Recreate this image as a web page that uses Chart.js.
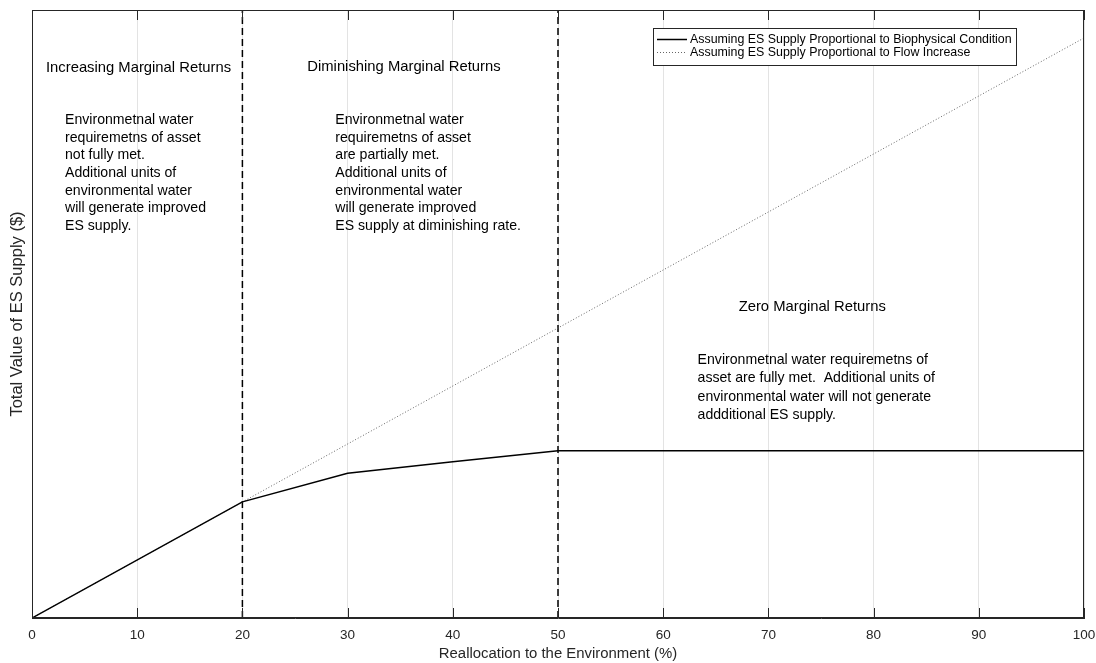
<!DOCTYPE html>
<html>
<head>
<meta charset="utf-8">
<script src="https://cdn.jsdelivr.net/npm/chart.js@4/dist/chart.umd.min.js"></script>
<style>
  body { margin: 0; background: #fff; }
  #wrap { width: 1096px; height: 663px; position: relative; }
</style>
</head>
<body>
<div id="wrap"><canvas id="esChart"></canvas></div>
<script>
// values (y in arbitrary units, 0..100)
const bioX = [0, 20, 30, 40, 50, 100];
const bioY = [0, 19.1, 23.8, 25.7, 27.5, 27.5];
const flowX = [0, 100];
const flowY = [0, 95.4];
const boundaries = [20, 50];
const xTicks = [0, 10, 20, 30, 40, 50, 60, 70, 80, 90, 100];

const seriesLabels = [
  "Assuming ES Supply Proportional to Biophysical Condition",
  "Assuming ES Supply Proportional to Flow Increase"
];

const zoneTitles = ["Increasing Marginal Returns", "Diminishing Marginal Returns", "Zero Marginal Returns"];
const zoneNotes = [
  ["Environmetnal water", "requiremetns of asset", "not fully met.", "Additional units of",
   "environmental water", "will generate improved", "ES supply."],
  ["Environmetnal water", "requiremetns of asset", "are partially met.", "Additional units of",
   "environmental water", "will generate improved", "ES supply at diminishing rate."],
  ["Environmetnal water requiremetns of", "asset are fully met.  Additional units of",
   "environmental water will not generate", "addditional ES supply."]
];

const FONT = "'Liberation Sans', Arial, Helvetica, sans-serif";
const AXIS = "#262626";

function toPoints(xs, ys) {
  return xs.map((x, i) => ({ x: x, y: ys[i] }));
}

const datasets = [
  {
    label: seriesLabels[0],
    data: toPoints(bioX, bioY),
    borderColor: "#000",
    borderWidth: 1.5,
    pointRadius: 0,
    order: 0
  },
  {
    label: seriesLabels[1],
    data: toPoints(flowX, flowY),
    borderColor: "#666",
    borderWidth: 1,
    borderDash: [1, 2],
    pointRadius: 0,
    order: 1
  }
];
boundaries.forEach(b => {
  datasets.push({
    label: "boundary",
    data: [{ x: b, y: 0 }, { x: b, y: 100 }],
    borderColor: "#000",
    borderWidth: 1.5,
    borderDash: [7, 4],
    pointRadius: 0,
    order: 2
  });
});

function drawText(ctx, str, x, y, size, color) {
  ctx.save();
  ctx.font = size + "px " + FONT;
  ctx.fillStyle = color;
  ctx.textBaseline = "middle";
  ctx.textAlign = "left";
  ctx.fillText(str, x, y);
  ctx.restore();
}

const decorations = {
  id: "decorations",
  afterDatasetsDraw(chart) {
    const ctx = chart.ctx;
    const xs = chart.scales.x, ys = chart.scales.y;
    const a = chart.chartArea;

    // box + inward ticks
    ctx.save();
    ctx.strokeStyle = AXIS;
    ctx.lineWidth = 1;
    ctx.strokeRect(a.left + 0.5, a.top + 0.5, a.right - a.left - 1, a.bottom - a.top - 1);
    xTicks.forEach(t => {
      const px = Math.round(xs.getPixelForValue(t)) + 0.5;
      ctx.beginPath();
      ctx.moveTo(px, a.bottom);
      ctx.lineTo(px, a.bottom - 10);
      ctx.moveTo(px, a.top);
      ctx.lineTo(px, a.top + 10);
      ctx.stroke();
    });
    ctx.restore();

    // zone annotations, placed in data units
    const titlePos = [[1.33, 90.5], [26.17, 90.6], [67.17, 51.15]];
    const notePos = [[3.14, 81.9], [28.83, 81.9], [63.27, 42.4]];
    const noteStep = [17.7, 17.7, 18.3];
    zoneTitles.forEach((t, i) => {
      drawText(ctx, t, xs.getPixelForValue(titlePos[i][0]), ys.getPixelForValue(titlePos[i][1]), 14.8, "#000");
      const nx = xs.getPixelForValue(notePos[i][0]);
      const ny = ys.getPixelForValue(notePos[i][1]);
      zoneNotes[i].forEach((line, j) => {
        drawText(ctx, line, nx, ny + j * noteStep[i], 14.1, "#000");
      });
    });

    // legend box
    const lx = 653, ly = 28, lw = 363, lh = 37;
    ctx.save();
    ctx.fillStyle = "#fff";
    ctx.fillRect(lx, ly, lw, lh);
    ctx.strokeStyle = AXIS;
    ctx.lineWidth = 1;
    ctx.strokeRect(lx + 0.5, ly + 0.5, lw, lh);
    [0, 1].forEach(i => {
      const ds = chart.data.datasets[i];
      const yy = ly + 11.5 + i * 13;
      ctx.strokeStyle = ds.borderColor;
      ctx.lineWidth = ds.borderWidth;
      ctx.setLineDash(ds.borderDash || []);
      ctx.beginPath();
      ctx.moveTo(lx + 4, yy);
      ctx.lineTo(lx + 34, yy);
      ctx.stroke();
      ctx.setLineDash([]);
      drawText(ctx, ds.label, lx + 37, yy, 12.4, "#000");
    });
    ctx.restore();
  }
};

new Chart(document.getElementById("esChart"), {
  type: "line",
  data: { datasets: datasets },
  options: {
    responsive: true,
    maintainAspectRatio: false,
    animation: false,
    layout: { padding: { top: 10, right: 12, left: 0, bottom: 0 } },
    plugins: {
      legend: { display: false },
      tooltip: { enabled: false }
    },
    scales: {
      x: {
        type: "linear",
        min: 0,
        max: 100,
        afterFit: s => { s.height = 45; s.paddingLeft = 0; s.paddingRight = 0; },
        afterBuildTicks: s => { s.ticks = xTicks.map(v => ({ value: v })); },
        ticks: {
          color: AXIS,
          padding: 9,
          maxRotation: 0,
          font: { family: FONT, size: 13.5 }
        },
        grid: { color: "#e3e3e3", lineWidth: 1, drawTicks: false },
        border: { display: true, color: AXIS },
        title: {
          display: true,
          text: "Reallocation to the Environment (%)",
          color: AXIS,
          padding: { top: 0, bottom: 0 },
          font: { family: FONT, size: 14.9 }
        }
      },
      y: {
        type: "linear",
        min: 0,
        max: 100,
        afterFit: s => { s.width = 32; },
        ticks: { display: false },
        grid: { display: false, drawTicks: false },
        border: { display: true, color: AXIS },
        title: {
          display: true,
          text: "Total Value of ES Supply ($)",
          color: AXIS,
          padding: { top: 8, bottom: 0 },
          font: { family: FONT, size: 16.5 }
        }
      }
    }
  },
  plugins: [decorations]
});
</script>
</body>
</html>
